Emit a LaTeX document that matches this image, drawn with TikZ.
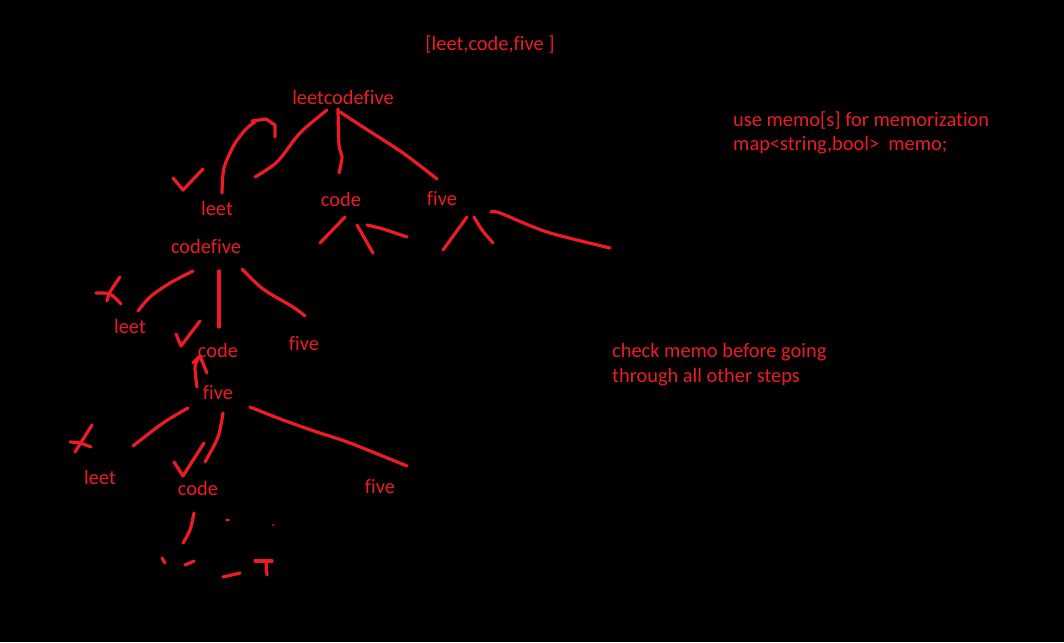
\documentclass[tikz,border=0pt]{standalone}
\usepackage{fontspec}
\setmainfont{Carlito}[Ligatures=NoCommon]
\definecolor{inkred}{RGB}{237,28,36}

\begin{document}
\begin{tikzpicture}[
      x=1pt, y=-1pt,
      font=\fontsize{20.4}{24}\selectfont,
      word/.style={
        text=inkred,
        inner sep=0pt,
        anchor=base
      },
      note/.style={
        word,
        anchor=base west
      },
      stroke/.style={
        draw=inkred,
        line width=3.2pt,
        line cap=round,
        line join=round
      }
    ]
    \useasboundingbox[fill=black] (0,0) rectangle (1064,642);

    \node[word] (list) at (490,50) {[leet,code,five ]};
    \node[word] (root) at (343,104) {leetcodefive};

    \node[word] (leetA) at (217,215) {leet};
    \node[word] (codeA) at (341,206) {code};
    \node[word] (fiveA) at (442,205) {five};

    \node[word] (codefive) at (206,253) {codefive};
    \node[word] (leetB) at (130,333) {leet};
    \node[word] (codeB) at (218,357) {code};
    \node[word] (fiveB) at (304,350) {five};

    \node[word] (fiveC) at (218,399) {five};
    \node[word] (leetC) at (100,484) {leet};
    \node[word] (codeC) at (198,495) {code};
    \node[word] (fiveD) at (380,493) {five};

    \node[note] (memoA) at (733,126) {use memo[s] for memorization};
    \node[note] (memoB) at (733,150) {map<string,bool>\ \ memo;};
    \node[note] (checkA) at (612,357) {check memo before going};
    \node[note] (checkB) at (612,382) {through all other steps};

    % first level
    \draw[stroke] plot[smooth] coordinates {(255,177) (277,162) (300,133) (327,110)};
    \draw[stroke] plot[smooth] coordinates {(338,109) (339,145) (342,157) (339,173)};
    \draw[stroke] plot[smooth] coordinates {(340,112) (363,127) (403,153) (437,179)};
    \draw[stroke] plot[smooth] coordinates {(222,193) (224,168) (234,145) (246,129) (255,122)};
    \draw[stroke] (252,121) -- (266,119) -- (275,125) -- (275,137);
    \draw[stroke] (173,178) -- (183,190) -- (203,169);

    % below code / five
    \draw[stroke] (345,217) -- (320,243);
    \draw[stroke] (357,225) -- (373,253);
    \draw[stroke] plot[smooth] coordinates {(367,225) (383,229) (407,237)};
    \draw[stroke] (467,217) -- (443,250);
    \draw[stroke] plot[smooth] coordinates {(474,217) (482,230) (493,243)};
    \draw[stroke] plot[smooth] coordinates {(491,212) (500,213) (547,232) (610,248)};

    % second level
    \draw[stroke] plot[smooth] coordinates {(193,271) (170,283) (150,297) (138,311)};
    \draw[stroke] (219,271) -- (219,327);
    \draw[stroke] plot[smooth] coordinates {(242,269) (263,289) (293,307) (305,316)};
    \draw[stroke] plot[smooth] coordinates {(120,277) (110,292) (107,301)};
    \draw[stroke] plot[smooth] coordinates {(96,293) (110,294) (121,304)};
    \draw[stroke] (176,334) -- (181,346) -- (200,321);
    \draw[stroke] plot[smooth] coordinates {(197,387) (195,367) (199,357)};
    \draw[stroke] (193,363) -- (200,356) -- (207,373);

    % third level
    \draw[stroke] plot[smooth] coordinates {(188,408) (163,423) (133,446)};
    \draw[stroke] plot[smooth] coordinates {(223,413) (218,437) (205,462)};
    \draw[stroke] plot[smooth] coordinates {(250,407) (283,420) (317,432) (350,443) (407,466)};
    \draw[stroke] (92,425) -- (75,452);
    \draw[stroke] plot[smooth] coordinates {(70,442) (80,443) (91,447)};
    \draw[stroke] (174,462) -- (183,476) -- (204,443);

    % below code
    \draw[stroke] plot[smooth] coordinates {(194,513) (190,530) (183,543)};
    \draw[stroke] (162,558) -- (165,563);
    \draw[stroke] (185,565) -- (194,561);
    \draw[stroke] (223,577) -- (240,573);
    \draw[stroke] (255,561) -- (272,561);
    \draw[stroke] (266,562) -- (267,575);
    \draw[stroke, line width=1.5pt] (226,520) -- (229,520);
    \draw[stroke, line width=1.5pt] (273,525) -- (273.5,525);
\end{tikzpicture}
\end{document}
